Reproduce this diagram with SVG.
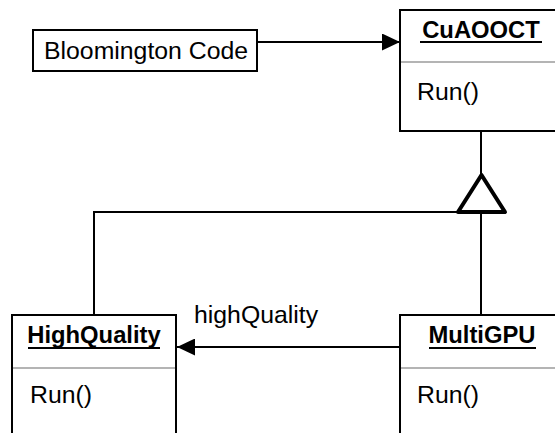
<svg xmlns="http://www.w3.org/2000/svg" width="555" height="433" viewBox="0 0 555 433">
  <defs>
    <marker id="arrow" viewBox="0 0 18 17" refX="18" refY="8.5" markerWidth="18" markerHeight="17" markerUnits="userSpaceOnUse" orient="auto">
      <path d="M0,0 L18,8.5 L0,17 Z" fill="#000"/>
    </marker>
  </defs>
  <style>
    .box { fill: #fff; stroke: #000; stroke-width: 2; }
    .sep { stroke: #b4b4b4; stroke-width: 2; }
    .title { font-family: "Liberation Sans", Arial, sans-serif; font-size: 23.8px; font-weight: bold; text-anchor: middle; }
    .uline { stroke: #000; stroke-width: 1.8; }
    .txt { font-family: "Liberation Sans", Arial, sans-serif; font-size: 24.8px; }
    .conn { fill: none; stroke: #000; stroke-width: 2; }
    .gen { fill: #fff; stroke: #000; stroke-width: 4; stroke-linejoin: round; }
  </style>
  <rect width="555" height="433" fill="#fff"/>

  <!-- connectors -->
  <g id="connectors">
    <line class="conn" x1="257" y1="42" x2="400" y2="42" marker-end="url(#arrow)"/>
    <line class="conn" x1="481" y1="131" x2="481" y2="175"/>
    <polyline class="conn" points="458,212 94,212 94,315"/>
    <line class="conn" x1="481" y1="212" x2="481" y2="315"/>
    <path class="gen" d="M481.5,175 L505,212 L458,212 Z"/>
    <line class="conn" x1="400" y1="347" x2="177" y2="347" marker-end="url(#arrow)"/>
    <text class="txt" x="194" y="323">highQuality</text>
  </g>

  <!-- Bloomington Code -->
  <g id="bloomington">
    <rect class="box" x="33" y="30" width="224" height="41"/>
    <text class="txt" x="44" y="59">Bloomington Code</text>
  </g>

  <!-- CuAOOCT -->
  <g id="cuaooct">
    <rect class="box" x="400" y="10" width="164" height="121"/>
    <line class="sep" x1="401" y1="62" x2="563" y2="62"/>
    <text class="title" x="481" y="37.5">CuAOOCT</text>
    <line class="uline" x1="420" y1="42" x2="542" y2="42"/>
    <text class="txt" x="417" y="100">Run()</text>
  </g>

  <!-- HighQuality -->
  <g id="highquality">
    <rect class="box" x="12" y="315" width="164" height="130"/>
    <line class="sep" x1="13" y1="368" x2="175" y2="368"/>
    <text class="title" x="94" y="343">HighQuality</text>
    <line class="uline" x1="28" y1="348" x2="160" y2="348"/>
    <text class="txt" x="30" y="403">Run()</text>
  </g>

  <!-- MultiGPU -->
  <g id="multigpu">
    <rect class="box" x="400" y="315" width="164" height="130"/>
    <line class="sep" x1="401" y1="368" x2="563" y2="368"/>
    <text class="title" x="482" y="343">MultiGPU</text>
    <line class="uline" x1="429" y1="348" x2="536" y2="348"/>
    <text class="txt" x="417" y="403">Run()</text>
  </g>
</svg>
